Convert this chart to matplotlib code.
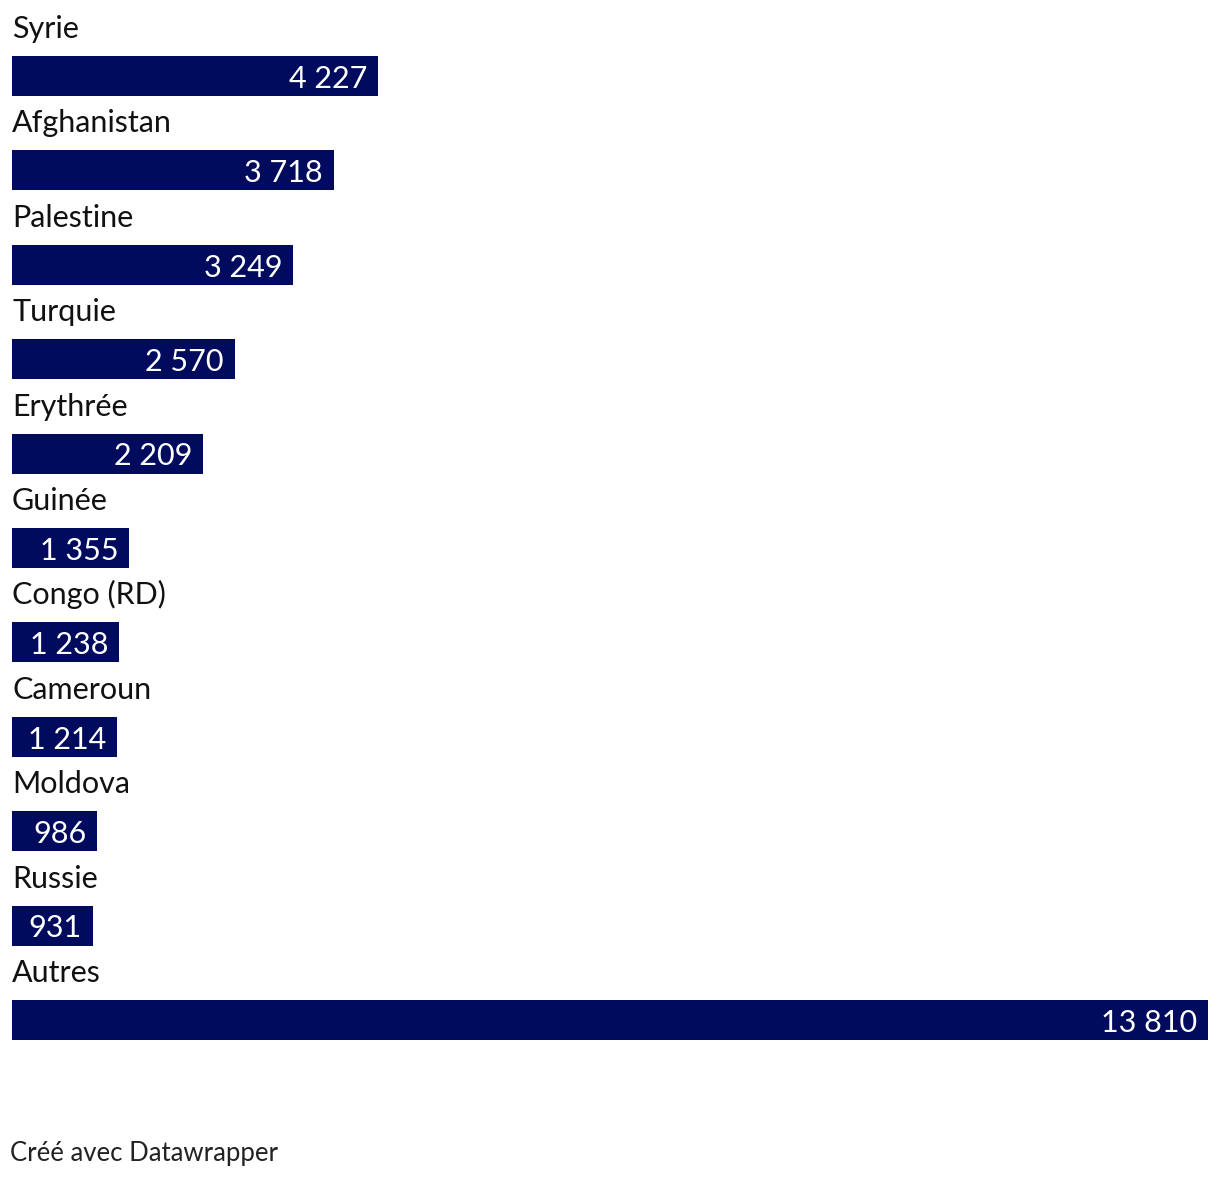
import matplotlib
matplotlib.use("Agg")
from matplotlib import pyplot as plt

plt.rcParams['font.family'] = ['Lato', 'DejaVu Sans']

countries = ["Syrie", "Afghanistan", "Palestine", "Turquie", "Erythrée",
             "Guinée", "Congo (RD)", "Cameroun", "Moldova", "Russie", "Autres"]
values = [4227, 3718, 3249, 2570, 2209, 1355, 1238, 1214, 986, 931, 13810]

BAR_COLOR = "#000b5e"
W, H = 1220, 1182
ROW = 94.4          # px between bars
BAR_H = 40 / ROW    # bar height in row units
TOP = 76            # px centre of first bar

fig = plt.figure(figsize=(W / 100, H / 100), dpi=100)
ax = fig.add_axes([12 / W, 0, 1196 / W, 1])
ax.set_xlim(0, max(values))
ax.set_ylim((H - TOP) / ROW, -TOP / ROW)
ax.axis("off")

ypos = list(range(len(values)))
ax.barh(ypos, values, height=BAR_H, color=BAR_COLOR, linewidth=0)

fmt = lambda v: f"{v:,}".replace(",", " ")
for y, name, v in zip(ypos, countries, values):
    ax.text(0, y - 38 / ROW, name, ha="left", va="baseline",
            fontsize=22, color="#111111")
    ax.annotate(fmt(v), xy=(v, y), xytext=(-8, -8.5), textcoords="offset points",
                ha="right", va="baseline", fontsize=22, color="white")

fig.text(10 / W, 1 - 1161 / H, "Créé avec Datawrapper", ha="left",
         va="baseline", fontsize=18.5, color="#222222")

fig.savefig("out.png", dpi=100)
